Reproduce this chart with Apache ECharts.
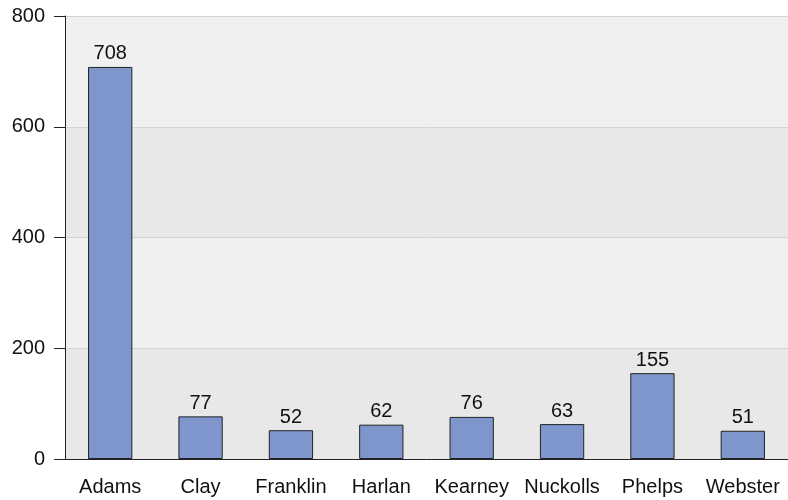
<!DOCTYPE html>
<html><head><meta charset="utf-8">
<script src="https://cdn.jsdelivr.net/npm/echarts@6/dist/echarts.min.js"></script>
<style>html,body{margin:0;padding:0;background:#fff}#c{width:788px;height:500px}</style>
</head><body><div id="c"></div>
<script>
const categories = ["Adams","Clay","Franklin","Harlan","Kearney","Nuckolls","Phelps","Webster"];
const values = [708,77,52,62,76,63,155,51];
const yTicks = [0,200,400,600,800];

const chart = echarts.init(document.getElementById('c'), null, {renderer:'canvas'});
const font = 'Liberation Sans, Arial, sans-serif';
chart.setOption({
  animation:false,
  grid:{left:65,right:0,top:16,bottom:41,containLabel:false},
  xAxis:{type:'category',data:categories,
    axisLine:{lineStyle:{color:'#222',width:1}},
    axisTick:{alignWithLabel:true,interval:0,length:11,lineStyle:{color:'#666'}},
    axisLabel:{interval:0,hideOverlap:false,color:'#111',fontSize:20,fontFamily:font,margin:18}},
  yAxis:{type:'value',min:yTicks[0],max:yTicks[yTicks.length-1],interval:200,
    axisLine:{show:true,lineStyle:{color:'#222'}},
    axisTick:{show:true,length:11,lineStyle:{color:'#222'}},
    axisLabel:{color:'#111',fontSize:20,fontFamily:font,margin:20},
    splitLine:{show:true,lineStyle:{color:'#d4d4d4'}},
    splitArea:{show:true,areaStyle:{color:['#e8e8e8','#f0f0f0']}}},
  series:[{type:'bar',data:values,barWidth:'49%',
    itemStyle:{color:'#7f96cc',borderColor:'#222',borderWidth:1},
    label:{show:true,position:'top',color:'#111',fontSize:20,fontFamily:font,distance:3}}]
});
</script></body></html>
